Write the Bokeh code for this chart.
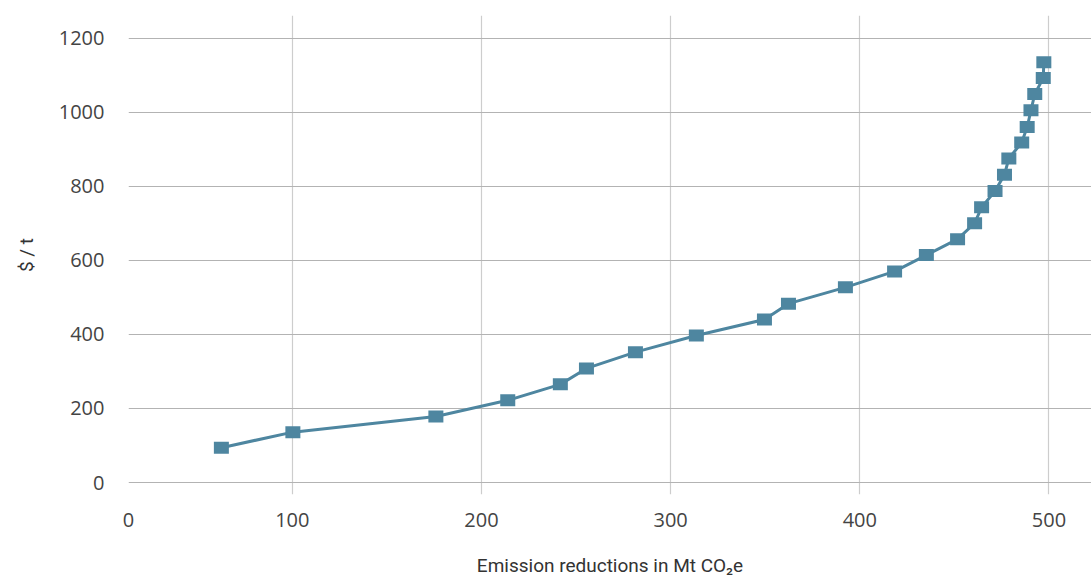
import math
from bokeh.plotting import figure
from bokeh.models import FixedTicker, ColumnDataSource
from bokeh.embed import file_html
from bokeh.resources import INLINE

# Data
reductions = [62.5, 100.3, 175.9, 213.9, 241.7, 255.5, 281.4, 313.6, 349.6, 362.3,
              392.4, 418.4, 435.2, 451.7, 460.7, 464.4, 471.5, 476.5, 478.8, 485.6,
              488.5, 490.5, 492.5, 497.0, 497.3]
cost = [94, 136, 178, 222, 265, 308, 352, 397, 440, 483,
        527, 570, 614, 657, 700, 743, 787, 831, 875, 918,
        960, 1005, 1049, 1092, 1135]

x_start, x_end = 13.4, 522.5
x_ticks = [x_start, 100, 200, 300, 400, 500]
x_tick_labels = ["0", "100", "200", "300", "400", "500"]
y_ticks = [0, 200, 400, 600, 800, 1000, 1200]

COLOR = "#4e86a0"
TICK_FONT = "Open Sans"
TITLE_FONT = "Roboto"

src = ColumnDataSource(dict(x=reductions, y=cost))

p = figure(width=1091, height=579, output_backend="svg", toolbar_location=None,
           x_range=(x_start, x_end), y_range=(-32.4, 1261),
           min_border_left=128, min_border_right=0, min_border_top=15, min_border_bottom=85)
p.outline_line_color = None
p.background_fill_color = "white"
p.border_fill_color = "white"

p.line("x", "y", source=src, line_color=COLOR, line_width=3)
p.rect("x", "y", source=src, width=15, height=12, width_units="screen", height_units="screen",
       fill_color=COLOR, line_color=None)

# x axis
p.xaxis.ticker = FixedTicker(ticks=x_ticks)
p.xaxis.major_label_overrides = {t: l for t, l in zip(x_ticks, x_tick_labels)}
p.xaxis.axis_label = "Emission reductions in Mt CO\u2082e"
p.xaxis.axis_label_text_font = TITLE_FONT
p.xaxis.axis_label_text_font_size = "19px"
p.xaxis.axis_label_text_font_style = "normal"
p.xaxis.axis_label_text_color = "#333333"
p.xaxis.axis_label_standoff = 24
p.xaxis.major_label_standoff = 12

# y axis
p.yaxis.ticker = FixedTicker(ticks=y_ticks)
p.yaxis.axis_label = "$ / t"
p.yaxis.axis_label_text_font = TITLE_FONT
p.yaxis.axis_label_text_font_size = "19px"
p.yaxis.axis_label_text_font_style = "normal"
p.yaxis.axis_label_text_color = "#333333"
p.yaxis.axis_label_standoff = 18
p.yaxis.major_label_standoff = 18
p.yaxis.major_label_text_baseline = "alphabetic"

for ax in (p.xaxis, p.yaxis):
    ax.axis_line_color = None
    ax.major_tick_line_color = None
    ax.minor_tick_line_color = None
    ax.major_label_text_font = TICK_FONT
    ax.major_label_text_font_size = "20px"
    ax.major_label_text_color = "#444444"

p.xgrid.ticker = FixedTicker(ticks=[100, 200, 300, 400, 500])
p.xgrid.grid_line_color = "#cdcdcd"
p.xgrid.grid_line_width = 1.2
p.ygrid.ticker = FixedTicker(ticks=y_ticks)
p.ygrid.grid_line_color = "#b3b3b3"
p.ygrid.grid_line_width = 1.2

open("out.html", "w").write(file_html(p, INLINE))
